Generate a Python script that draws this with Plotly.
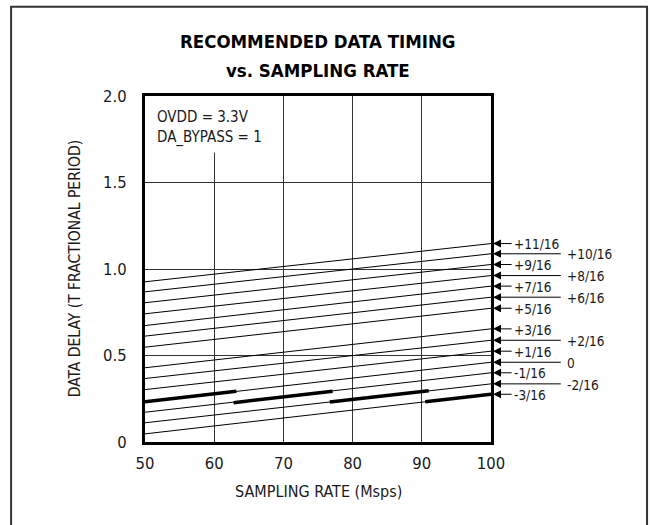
import plotly.graph_objects as go

# ---- data ----
rate_ends = [50, 100]
line_labels = ['+11/16', '+10/16', '+9/16', '+8/16', '+7/16', '+6/16', '+5/16',
               '+3/16', '+2/16', '+1/16', '0', '-1/16', '-2/16', '-3/16']
delay_at_50 = [0.926, 0.868, 0.805, 0.741, 0.673, 0.612, 0.548,
               0.429, 0.367, 0.303, 0.232, 0.172, 0.111, 0.047]
delay_at_100 = [1.147, 1.088, 1.026, 0.962, 0.901, 0.837, 0.773,
                0.654, 0.588, 0.525, 0.461, 0.400, 0.336, 0.276]
label_long = [False, True, False, True, False, True, False,
              False, True, False, True, False, True, False]

# recommended (bold) segments
rec_x_start = [50, 62.8, 76.7, 90.5]
rec_x_end = [63.2, 77.1, 91.0, 100]
rec_y_start = [0.232, 0.227, 0.231, 0.232]
rec_y_end = [0.294, 0.294, 0.296, 0.276]

x_ticks = [50, 60, 70, 80, 90, 100]
y_ticks = [0, 0.5, 1.0, 1.5, 2.0]
y_tick_text = ['0', '0.5', '1.0', '1.5', '2.0']

FONT = "DejaVu Sans Condensed, Liberation Sans Narrow, Arial Narrow, sans-serif"
INK = "#1a1a1a"

fig = go.Figure()

for lab, y0, y1 in zip(line_labels, delay_at_50, delay_at_100):
    fig.add_trace(go.Scatter(x=rate_ends, y=[y0, y1], mode='lines',
                             line=dict(color='black', width=1),
                             showlegend=False, hoverinfo='skip', name=lab))

for xa, xb, ya, yb in zip(rec_x_start, rec_x_end, rec_y_start, rec_y_end):
    fig.add_trace(go.Scatter(x=[xa, xb], y=[ya, yb], mode='lines',
                             line=dict(color='black', width=3.5),
                             showlegend=False, hoverinfo='skip'))

annotations = []
for lab, yv, long in zip(line_labels, delay_at_100, label_long):
    tail = 110.3 if long else 103.2
    annotations.append(dict(x=100, y=yv, xref='x', yref='y', ax=tail, ay=yv,
                            axref='x', ayref='y', text='', showarrow=True,
                            arrowhead=2, arrowsize=1.6, arrowwidth=1,
                            arrowcolor='black', standoff=2))
    annotations.append(dict(x=1.213 if long else 1.062, y=yv / 2.0 - 0.002,
                            xref='paper', yref='paper',
                            text=lab, showarrow=False, xanchor='left',
                            yanchor='middle',
                            font=dict(family=FONT, size=13.5, color=INK)))

# title (two lines)
annotations.append(dict(x=0.5, y=1.1587, xref='paper', yref='paper',
                        text='<b>RECOMMENDED DATA TIMING</b>',
                        showarrow=False, xanchor='center', yanchor='middle',
                        font=dict(family=FONT, size=18.5, color='black')))
annotations.append(dict(x=0.5, y=1.075, xref='paper', yref='paper',
                        text='<b>vs. SAMPLING RATE</b>',
                        showarrow=False, xanchor='center', yanchor='middle',
                        font=dict(family=FONT, size=18.5, color='black')))
# inside note
annotations.append(dict(x=0.029, y=0.909, xref='paper', yref='paper',
                        text='OVDD = 3.3V<br>DA_BYPASS = 1', align='left',
                        showarrow=False, xanchor='left', yanchor='middle',
                        font=dict(family=FONT, size=15, color=INK)))
# axis titles
annotations.append(dict(x=0.5, y=-0.1443, xref='paper', yref='paper',
                        text='SAMPLING RATE (Msps)', showarrow=False,
                        xanchor='center', yanchor='middle',
                        font=dict(family=FONT, size=16, color=INK)))
annotations.append(dict(x=-0.2014, y=0.5, xref='paper', yref='paper',
                        text='DATA DELAY (T FRACTIONAL PERIOD)', showarrow=False,
                        textangle=-90, xanchor='center', yanchor='middle',
                        font=dict(family=FONT, size=15.5, color=INK)))

shapes = [
    # white box behind the note
    dict(type='rect', xref='x', yref='y', x0=50, x1=68.1, y0=1.673, y1=2.0,
         fillcolor='white', line=dict(width=0), layer='between'),
    # outer frame
    dict(type='rect', xref='paper', yref='paper', x0=-0.387, x1=1.451,
         y0=-0.26, y1=1.258, line=dict(color='#333', width=2),
         fillcolor='rgba(0,0,0,0)', layer='above'),
]

axis_common = dict(showgrid=True, gridcolor='#333', gridwidth=1,
                   showline=True, linecolor='black', linewidth=3, mirror=True,
                   zeroline=False, ticks='', automargin=False,
                   tickfont=dict(family=FONT, size=16.5, color=INK))

fig.update_layout(
    width=650, height=525,
    margin=dict(l=145, r=159, t=96, b=83, autoexpand=False),
    paper_bgcolor='white', plot_bgcolor='white',
    xaxis=dict(range=[50, 100], tickvals=x_ticks, ticklabelstandoff=4, **axis_common),
    yaxis=dict(range=[0, 2], tickvals=y_ticks, ticktext=y_tick_text,
               ticklabelstandoff=12, **axis_common),
    annotations=annotations, shapes=shapes,
)

fig.write_html("out.html",
               config={'displayModeBar': False},
               post_script="document.body.style.margin='0';"
                           "document.body.style.overflow='hidden';")
